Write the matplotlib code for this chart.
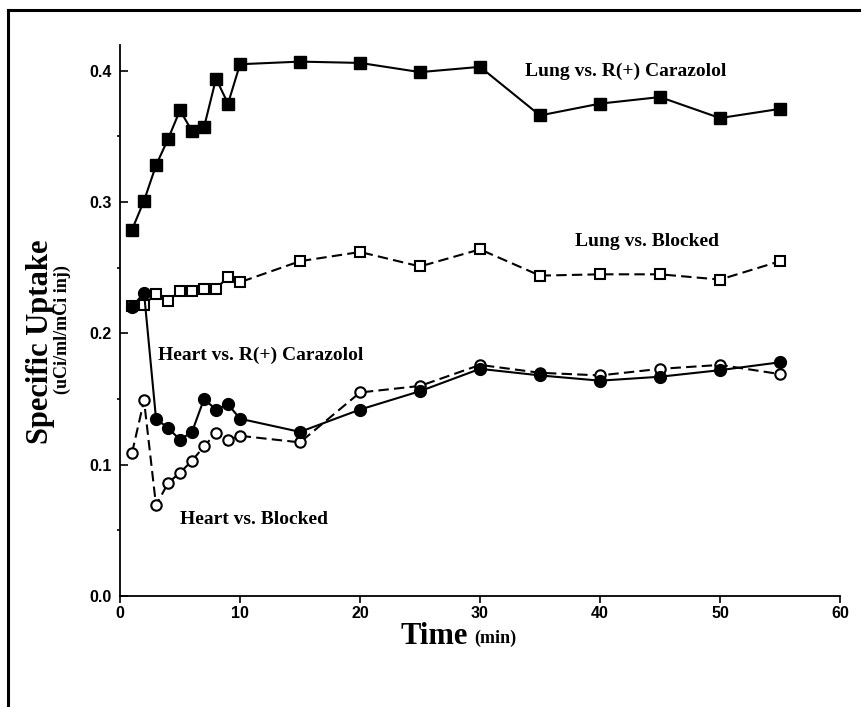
import matplotlib
matplotlib.use("Agg")
import matplotlib.pyplot as plt
from matplotlib.lines import Line2D
from matplotlib.ticker import MultipleLocator

time_min = [1, 2, 3, 4, 5, 6, 7, 8, 9, 10, 15, 20, 25, 30, 35, 40, 45, 50, 55]

lung_carazolol = [0.279, 0.301, 0.328, 0.348, 0.370, 0.354, 0.357, 0.394, 0.375, 0.405,
                  0.407, 0.406, 0.399, 0.403, 0.366, 0.375, 0.380, 0.364, 0.371]
lung_blocked = [0.221, 0.222, 0.230, 0.225, 0.232, 0.232, 0.234, 0.234, 0.243, 0.239,
                0.255, 0.262, 0.251, 0.264, 0.244, 0.245, 0.245, 0.241, 0.255]
heart_carazolol = [0.220, 0.231, 0.135, 0.128, 0.119, 0.125, 0.150, 0.142, 0.146, 0.135,
                   0.125, 0.142, 0.156, 0.173, 0.168, 0.164, 0.167, 0.172, 0.178]
heart_blocked = [0.109, 0.149, 0.069, 0.086, 0.094, 0.103, 0.114, 0.124, 0.119, 0.122,
                 0.117, 0.155, 0.160, 0.176, 0.170, 0.168, 0.173, 0.176, 0.169]

serif = "Liberation Serif"
sans = "Liberation Sans"

fig = plt.figure(figsize=(8.61, 7.07), dpi=100)
ax = fig.add_axes([0.1394, 0.157, 0.8362, 0.7800])

dash = (5, 2.5)
ax.plot(time_min, lung_blocked, color="black", lw=1.5, dashes=dash,
        marker="s", ms=7, mfc="white", mec="black", mew=1.5, zorder=3)
ax.plot(time_min, heart_blocked, color="black", lw=1.5, dashes=dash,
        marker="o", ms=7.5, mfc="white", mec="black", mew=1.5, zorder=3)
ax.plot(time_min, lung_carazolol, color="black", lw=1.5,
        marker="s", ms=9, mfc="black", mec="black", zorder=4)
ax.plot(time_min, heart_carazolol, color="black", lw=1.5,
        marker="o", ms=8.5, mfc="black", mec="black", zorder=4)

ax.set_xlim(0, 60)
ax.set_ylim(0, 0.42)
ax.set_xticks(range(0, 61, 10))
ax.set_yticks([0.0, 0.1, 0.2, 0.3, 0.4])
ax.yaxis.set_minor_locator(MultipleLocator(0.05))
ax.set_yticklabels(["0.0", "0.1", "0.2", "0.3", "0.4"])

for side in ("top", "right"):
    ax.spines[side].set_visible(False)
for side in ("left", "bottom"):
    ax.spines[side].set_linewidth(1.3)

ax.tick_params(axis="x", direction="out", length=5, width=1.2, pad=2)
ax.tick_params(axis="y", which="major", direction="in", length=6, width=1.2, pad=6)
ax.tick_params(axis="y", which="minor", direction="out", length=2.5, width=1.2)
for lbl in ax.get_xticklabels() + ax.get_yticklabels():
    lbl.set_fontfamily(sans)
    lbl.set_fontweight("bold")
    lbl.set_fontsize(11.5)

# curve labels
lbl_kw = dict(fontfamily=serif, fontweight="bold", fontsize=14, va="center", ha="left")
ax.text(33.75, 0.3993, "Lung vs. R(+) Carazolol", **lbl_kw)
ax.text(37.9, 0.2698, "Lung vs. Blocked", **lbl_kw)
ax.text(3.17, 0.1835, "Heart vs. R(+) Carazolol", **lbl_kw)
ax.text(5.0, 0.0586, "Heart vs. Blocked", **lbl_kw)

# axis titles
fig.text(0.047, 0.516, "Specific Uptake", rotation=90, fontfamily=serif,
         fontweight="bold", fontsize=22, ha="center", va="center")
fig.text(0.072, 0.534, "(uCi/ml/mCi inj)", rotation=90, fontfamily=serif,
         fontweight="bold", fontsize=13, ha="center", va="center")
fig.text(0.5436, 0.100, "Time", fontfamily=serif, fontweight="bold", fontsize=22,
         ha="right", va="center")
fig.text(0.5505, 0.097, "(min)", fontfamily=serif, fontweight="bold", fontsize=13,
         ha="left", va="center")

# partial frame around the figure
fig.add_artist(Line2D([0.0093, 1.0], [0.986, 0.986], color="black", lw=2.2))
fig.add_artist(Line2D([0.0093, 0.0093], [0.0, 0.986], color="black", lw=2.2))

fig.savefig("out.png", dpi=100)
